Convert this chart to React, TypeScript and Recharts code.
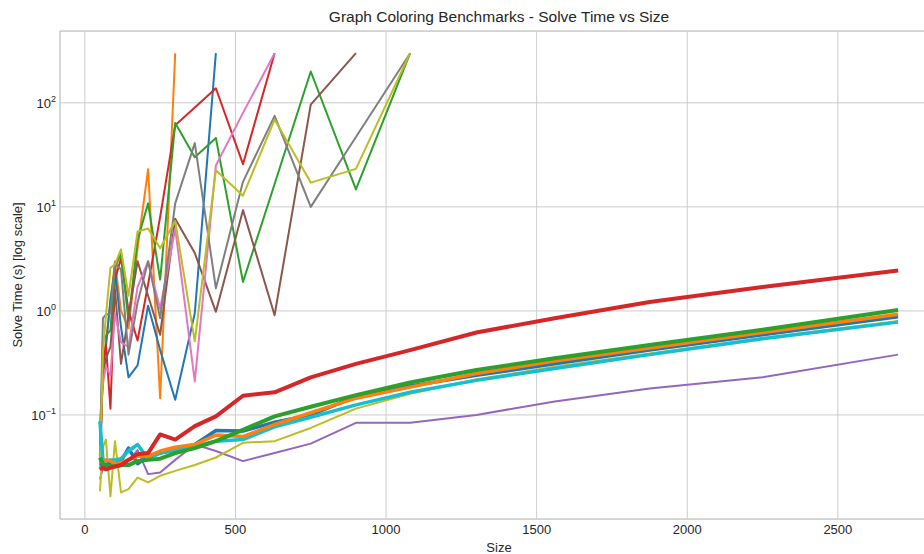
import React from 'react';
import { LineChart, Line, XAxis, YAxis, CartesianGrid, ReferenceLine } from 'recharts';

// problem sizes (x)
const sizes = [50, 60, 70, 85, 100, 120, 145, 175, 210, 250, 300, 365, 435, 525, 630, 750, 900, 1080, 1300, 1560, 1875, 2250, 2700];

// exact-ish solvers that hit the 300 s timeout
const orangeThin = [0.035, 0.35, 0.5, 1.2, 3.0, 1.0, 0.68, 4.0, 23, 0.145, 300];
const blueThin = [0.04, 0.3, 0.45, 1.3, 2.5, 0.7, 0.23, 0.3, 1.12, 0.42, 0.14, 0.95, 300];
const redThin = [0.03, 0.3, 0.47, 0.115, 2.0, 3.2, 1.0, 0.52, 1.8, 8.0, 61, 90, 138, 25.7, 300];
const greenThin = [0.037, 0.5, 0.58, 0.65, 2.6, 3.6, 0.8, 4.8, 10.8, 2.0, 64, 30, 46, 1.9, 16.6, 200, 14.7, 300];
const grayThin = [0.04, 0.85, 0.92, 0.95, 2.9, 2.5, 0.38, 1.2, 3.0, 0.85, 10.8, 41, 1.65, 17.4, 75, 10, 47, 300];
const oliveThin = [0.03, 0.4, 0.9, 2.6, 2.8, 3.9, 1.4, 5.8, 6.2, 4.0, 7.3, 0.51, 22.5, 12.8, 69, 17.1, 23.2, 300];
const brownThin = [0.035, 0.25, 0.35, 0.45, 1.6, 0.31, 0.9, 3.0, 1.4, 0.59, 7.7, 3.6, 0.98, 9.3, 0.91, 96, 300];
const pinkThin = [0.085, 0.2, 0.29, 0.24, 0.95, 0.5, 0.45, 1.7, 3.0, 1.05, 6.2, 0.21, 25, 80, 300];

// heuristics that finish on every size
const blueThick = [0.033, 0.034, 0.033, 0.035, 0.034, 0.036, 0.048, 0.034, 0.04, 0.043, 0.046, 0.052, 0.071, 0.07, 0.085, 0.1, 0.15, 0.19, 0.24, 0.31, 0.42, 0.59, 0.88];
const orangeThick = [0.035, 0.036, 0.037, 0.036, 0.034, 0.035, 0.037, 0.04, 0.04, 0.045, 0.049, 0.052, 0.064, 0.062, 0.081, 0.105, 0.145, 0.185, 0.25, 0.33, 0.44, 0.62, 0.93];
const cyanThick = [0.087, 0.037, 0.036, 0.037, 0.037, 0.038, 0.045, 0.052, 0.038, 0.043, 0.046, 0.05, 0.056, 0.058, 0.077, 0.095, 0.125, 0.165, 0.215, 0.28, 0.38, 0.54, 0.78];
const purpleThin = [0.024, 0.031, 0.032, 0.033, 0.033, 0.034, 0.036, 0.046, 0.027, 0.028, 0.037, 0.052, 0.045, 0.036, 0.043, 0.053, 0.084, 0.084, 0.1, 0.135, 0.18, 0.23, 0.38];
const oliveLow = [0.0185, 0.049, 0.058, 0.0165, 0.056, 0.018, 0.0194, 0.025, 0.0225, 0.026, 0.029, 0.033, 0.039, 0.054, 0.056, 0.075, 0.115, 0.16, 0.22, 0.29, 0.39, 0.55, 0.8];
const greenThick = [0.039, 0.034, 0.033, 0.032, 0.032, 0.033, 0.033, 0.036, 0.037, 0.038, 0.043, 0.048, 0.056, 0.072, 0.097, 0.12, 0.155, 0.205, 0.27, 0.35, 0.47, 0.66, 1.02];
const redThick = [0.03, 0.031, 0.03, 0.031, 0.032, 0.033, 0.037, 0.042, 0.043, 0.065, 0.058, 0.078, 0.097, 0.153, 0.165, 0.23, 0.31, 0.42, 0.62, 0.85, 1.22, 1.7, 2.45];

const xTicks = [0, 500, 1000, 1500, 2000, 2500];
const yTicks = [0.1, 1, 10, 100];
const yTickExp: Record<string, string> = { '0.1': '\u22121', '1': '0', '10': '1', '100': '2' };

const series = [
  { key: 'orangeThin', values: orangeThin, color: '#ff7f0e', width: 2 },
  { key: 'blueThin', values: blueThin, color: '#1f77b4', width: 2 },
  { key: 'redThin', values: redThin, color: '#d62728', width: 2 },
  { key: 'greenThin', values: greenThin, color: '#2ca02c', width: 2 },
  { key: 'brownThin', values: brownThin, color: '#8c564b', width: 2 },
  { key: 'pinkThin', values: pinkThin, color: '#e377c2', width: 2 },
  { key: 'grayThin', values: grayThin, color: '#7f7f7f', width: 2 },
  { key: 'oliveThin', values: oliveThin, color: '#bcbd22', width: 2 },
  { key: 'purpleThin', values: purpleThin, color: '#9467bd', width: 2 },
  { key: 'oliveLow', values: oliveLow, color: '#bcbd22', width: 2 },
  { key: 'blueThick', values: blueThick, color: '#1f77b4', width: 3.5 },
  { key: 'cyanThick', values: cyanThick, color: '#17becf', width: 3.5 },
  { key: 'orangeThick', values: orangeThick, color: '#ff7f0e', width: 3.5 },
  { key: 'greenThick', values: greenThick, color: '#2ca02c', width: 4 },
  { key: 'redThick', values: redThick, color: '#d62728', width: 4 },
];

const data = sizes.map((size, i) => {
  const row: Record<string, number | undefined> = { size };
  series.forEach(s => {
    row[s.key] = s.values[i];
  });
  return row;
});

const FONT = '"Liberation Sans", Arial, sans-serif';
const TEXT = '#262626';
const GRID = '#cccccc';

const XTick = (props: any) => {
  const { x, payload } = props;
  return (
    <text x={x} y={534} textAnchor="middle" fill={TEXT} fontSize={13} fontFamily={FONT}>
      {payload.value}
    </text>
  );
};

const YTick = (props: any) => {
  const { y, payload } = props;
  return (
    <text x={56} y={y + 5} textAnchor="end" fill={TEXT} fontSize={13} fontFamily={FONT}>
      <tspan>10</tspan>
      <tspan dy={-6} fontSize={9}>{yTickExp[String(payload.value)]}</tspan>
    </text>
  );
};

const App: React.FC = () => {
  return (
    <div style={{ position: 'fixed', left: 0, top: 0, width: 924, height: 554, overflow: 'hidden', background: '#fff' }}>
      <LineChart width={940} height={554} data={data} margin={{ top: 31, right: 2, bottom: 0, left: 0 }}>
        <CartesianGrid stroke={GRID} strokeWidth={1} />
        <XAxis
          type="number"
          dataKey="size"
          domain={[-82.5, 2832.5]}
          ticks={xTicks}
          height={35}
          tickLine={false}
          axisLine={{ stroke: GRID, strokeWidth: 1.25 }}
          tick={<XTick />}
          allowDataOverflow
        />
        <YAxis
          type="number"
          scale="log"
          domain={[0.01, 490]}
          ticks={yTicks}
          width={60}
          tickLine={false}
          axisLine={{ stroke: GRID, strokeWidth: 1.25 }}
          tick={<YTick />}
          allowDataOverflow
        />
        <ReferenceLine y={490} stroke={GRID} strokeWidth={1.25} />
        {series.map(s => (
          <Line
            key={s.key}
            dataKey={s.key}
            stroke={s.color}
            strokeWidth={s.width}
            strokeLinejoin="round"
            dot={false}
            activeDot={false}
            isAnimationActive={false}
          />
        ))}
      </LineChart>
      <svg width={924} height={554} style={{ position: 'absolute', left: 0, top: 0, pointerEvents: 'none' }}>
        <text x={499} y={22} textAnchor="middle" fill={TEXT} fontSize={15.5} fontFamily={FONT}>
          Graph Coloring Benchmarks - Solve Time vs Size
        </text>
        <text x={499} y={552} textAnchor="middle" fill={TEXT} fontSize={13} fontFamily={FONT}>
          Size
        </text>
        <text x={22} y={275} textAnchor="middle" fill={TEXT} fontSize={13} fontFamily={FONT} transform="rotate(-90 22 275)">
          Solve Time (s) [log scale]
        </text>
      </svg>
    </div>
  );
};

export default App;
